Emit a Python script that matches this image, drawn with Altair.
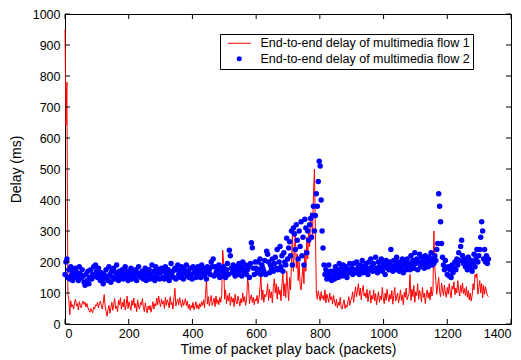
import altair as alt
import pandas as pd

# Flow 1 (red line) delay in ms, one value every 3 packets
flow1 = [
    950, 640, 780, 95, 80, 30, 75, 55, 62, 48, 70, 80, 58, 66, 45, 72, 60, 52, 68, 74,
    63, 70, 55, 66, 52, 44, 38, 50, 42, 36, 55, 48, 62, 58, 70, 52, 66, 74, 60, 48,
    68, 95, 56, 40, 25, 48, 60, 35, 52, 70, 44, 64, 82, 50, 58, 40, 76, 62, 85, 48,
    70, 55, 80, 45, 62, 90, 50, 72, 58, 44, 76, 60, 84, 52, 66, 40, 78, 58, 48, 70,
    62, 82, 54, 40, 68, 50, 36, 58, 46, 60, 38, 54, 72, 48, 66, 58, 84, 62, 90, 70,
    56, 80, 64, 74, 50, 86, 60, 78, 68, 52, 88, 62, 70, 48, 84, 115, 58, 72, 80, 62,
    85, 66, 54, 78, 60, 70, 82, 58, 74, 50, 64, 44, 60, 52, 70, 46, 58, 72, 50, 62,
    48, 66, 55, 72, 60, 78, 52, 92, 146, 64, 88, 58, 76, 92, 60, 70, 84, 56, 90, 66,
    78, 62, 86, 70, 95, 238, 200, 80, 110, 66, 92, 74, 100, 60, 88, 70, 84, 56, 96, 72,
    64, 90, 76, 58, 82, 68, 100, 72, 88, 60, 78, 146, 130, 66, 84, 94, 70, 86, 62, 80,
    74, 92, 66, 84, 117, 155, 78, 110, 70, 96, 88, 100, 130, 76, 112, 84, 104, 68, 120, 146,
    100, 130, 80, 120, 95, 110, 75, 125, 162, 90, 130, 85, 170, 120, 75, 150, 110, 200, 294, 170,
    230, 300, 180, 226, 140, 200, 125, 110, 150, 190, 130, 240, 170, 280, 210, 300, 250, 360, 340, 280,
    420, 500, 300, 100, 80, 107, 90, 75, 104, 82, 92, 76, 110, 68, 96, 84, 70, 100, 78, 88,
    64, 92, 74, 58, 80, 52, 70, 60, 86, 52, 48, 66, 78, 50, 62, 54, 72, 88, 60, 76,
    84, 104, 70, 96, 120, 88, 110, 130, 92, 116, 78, 106, 124, 90, 100, 84, 112, 72, 96, 108,
    68, 92, 80, 110, 74, 98, 62, 86, 104, 70, 90, 78, 118, 84, 66, 100, 76, 112, 88, 72,
    96, 80, 108, 64, 92, 118, 74, 88, 100, 68, 84, 110, 76, 94, 62, 102, 86, 116, 78, 90,
    98, 160, 76, 112, 88, 124, 70, 104, 92, 130, 80, 108, 96, 72, 118, 86, 100, 66, 94, 110,
    84, 102, 78, 120, 90, 106, 300, 180, 140, 96, 124, 150, 104, 88, 132, 110, 92, 126, 100, 86,
    118, 96, 130, 104, 84, 122, 112, 136, 94, 116, 100, 140, 108, 90, 126, 102, 132, 98, 114, 92,
    120, 86, 108, 78, 100, 74, 92, 130, 110, 160, 150, 162, 96, 118, 140, 100, 130, 84, 124, 96,
    120, 104, 92, 88,
]

# Flow 2 (blue dots) delay in ms, one value every 3 packets
flow2 = [
    160, 200, 210, 150, 175, 145, 185, 160, 140, 170, 155, 180, 150, 165, 140, 185, 160, 148, 175, 155,
    135, 125, 160, 140, 170, 130, 150, 175, 145, 160, 185, 155, 190, 170, 150, 180, 160, 140, 165, 150,
    130, 160, 145, 175, 150, 140, 185, 160, 135, 170, 150, 180, 145, 165, 190, 155, 140, 170, 160, 150,
    175, 145, 160, 185, 150, 170, 140, 165, 155, 180, 145, 170, 160, 150, 175, 140, 165, 185, 155, 160,
    150, 170, 145, 160, 180, 140, 165, 155, 175, 145, 160, 190, 150, 170, 140, 185, 160, 150, 175, 145,
    165, 180, 150, 170, 145, 185, 160, 150, 175, 140, 165, 195, 155, 170, 150, 180, 145, 175, 190, 160,
    170, 150, 185, 160, 145, 175, 165, 190, 155, 170, 150, 180, 160, 145, 185, 165, 175, 150, 170, 185,
    160, 175, 150, 190, 165, 180, 155, 170, 145, 185, 165, 175, 160, 200, 185, 210, 155, 185, 165, 175,
    160, 190, 150, 180, 170, 155, 185, 165, 150, 175, 195, 160, 238, 220, 180, 165, 190, 170, 155, 185,
    175, 160, 195, 170, 185, 155, 200, 175, 165, 190, 160, 175, 185, 150, 195, 262, 246, 180, 160, 200,
    180, 165, 200, 175, 210, 160, 190, 180, 170, 205, 160, 235, 225, 200, 165, 190, 180, 210, 170, 195,
    215, 180, 240, 175, 200, 250, 185, 220, 170, 230, 200, 190, 277, 210, 245, 265, 220, 300, 190, 310,
    290, 240, 320, 270, 210, 300, 250, 330, 220, 280, 190, 338, 310, 230, 300, 270, 320, 340, 280, 350,
    380, 300, 350, 420, 380, 460, 525, 510, 400, 300, 245, 190, 160, 175, 145, 160, 190, 150, 170, 140,
    155, 170, 145, 185, 160, 175, 150, 195, 165, 180, 155, 190, 170, 160, 185, 150, 175, 165, 195, 170,
    180, 160, 195, 175, 165, 200, 170, 185, 160, 190, 175, 205, 165, 185, 170, 195, 180, 160, 200, 175,
    210, 185, 170, 195, 175, 215, 180, 165, 200, 185, 175, 210, 170, 195, 185, 160, 205, 180, 190, 175,
    200, 240, 185, 170, 205, 190, 175, 215, 185, 200, 170, 195, 180, 210, 165, 190, 200, 175, 210, 185,
    195, 175, 220, 190, 205, 180, 230, 195, 210, 175, 200, 225, 185, 215, 190, 205, 180, 220, 195, 210,
    185, 215, 200, 230, 190, 210, 195, 220, 205, 240, 260, 420, 380, 330, 260, 215, 190, 175, 205, 180,
    160, 185, 155, 175, 150, 190, 165, 180, 200, 175, 210, 190, 230, 205, 250, 270, 220, 195, 210, 185,
    200, 175, 215, 190, 180, 205, 170, 195, 225, 185, 210, 240, 200, 220, 240, 280, 330, 300, 210, 240,
    200, 220, 195, 210,
]

packet = list(range(0, 3 * len(flow1), 3))

L1 = "End-to-end delay of multimedia flow 1"
L2 = "End-to-end delay of multimedia flow 2"
series_labels = [L1, L2]
series_colors = ["#ff0000", "#0000ff"]

x_ticks = [0, 200, 400, 600, 800, 1000, 1200, 1400]
y_ticks = [0, 100, 200, 300, 400, 500, 600, 700, 800, 900, 1000]

W, H = 446, 310
TICK = 5

df1 = pd.DataFrame({"packet": packet, "delay": flow1})
df2 = pd.DataFrame({"packet": packet, "delay": flow2, "series": L2})
dxt = pd.DataFrame({"packet": x_ticks})
dyt = pd.DataFrame({"delay": y_ticks})

xs = alt.Scale(domain=[0, 1400], nice=False, zero=False)
ys = alt.Scale(domain=[0, 1000], nice=False, zero=False)

xaxis = alt.Axis(values=x_ticks, title="Time of packet play back (packets)",
                 labelPadding=3, titlePadding=3, format="d", labelOverlap=False)
yaxis = alt.Axis(values=y_ticks, title="Delay (ms)", labelPadding=5, titlePadding=9,
                 format="d", labelOverlap=False)

X = alt.X("packet:Q", scale=xs, axis=xaxis)
Y = alt.Y("delay:Q", scale=ys, axis=yaxis)

LINE_SYM = "M-4.6,-0.2H4.6V0.2H-4.6Z"

legend = alt.Legend(title=None, orient="none", legendX=155, legendY=20,
                    strokeColor="black", fillColor="white", padding=3, rowPadding=2.5,
                    symbolSize=25, symbolOffset=10, labelOffset=15, labelLimit=400,
                    labelFont="Liberation Sans", labelFontSize=12.5, labelColor="black")

line = alt.Chart(df1).mark_line(color="#ff0000", strokeWidth=1).encode(x=X, y=Y)

pts = alt.Chart(df2).mark_point(filled=True, size=30, opacity=1).encode(
    x=X, y=Y,
    color=alt.Color("series:N", scale=alt.Scale(domain=series_labels, range=series_colors), legend=legend),
    shape=alt.Shape("series:N", scale=alt.Scale(domain=series_labels, range=[LINE_SYM, "circle"]), legend=legend),
)

tick_bottom = alt.Chart(dxt).mark_rule(color="black", strokeWidth=1).encode(
    x=X, y=alt.value(H), y2=alt.value(H - TICK))
tick_top = alt.Chart(dxt).mark_rule(color="black", strokeWidth=1).encode(
    x=X, y=alt.value(0), y2=alt.value(TICK))
tick_left = alt.Chart(dyt).mark_rule(color="black", strokeWidth=1).encode(
    y=Y, x=alt.value(0), x2=alt.value(TICK))
tick_right = alt.Chart(dyt).mark_rule(color="black", strokeWidth=1).encode(
    y=Y, x=alt.value(W), x2=alt.value(W - TICK))

chart = alt.layer(line, pts, tick_bottom, tick_top, tick_left, tick_right).properties(
    width=W, height=H,
    padding={"left": 57, "top": 6, "right": 2, "bottom": 36},
    autosize=alt.AutoSizeParams(type="none"),
).configure_view(stroke="black", strokeWidth=1).configure_axis(
    domain=False, ticks=False, tickSize=0, grid=False,
    labelFont="Liberation Sans", labelFontSize=12.5, labelColor="black",
    titleFont="Liberation Sans", titleFontSize=14, titleFontWeight="normal", titleColor="black",
).configure_legend(strokeWidth=1, cornerRadius=0)

chart.save("out.html", embed_options={"renderer": "svg", "actions": False})
